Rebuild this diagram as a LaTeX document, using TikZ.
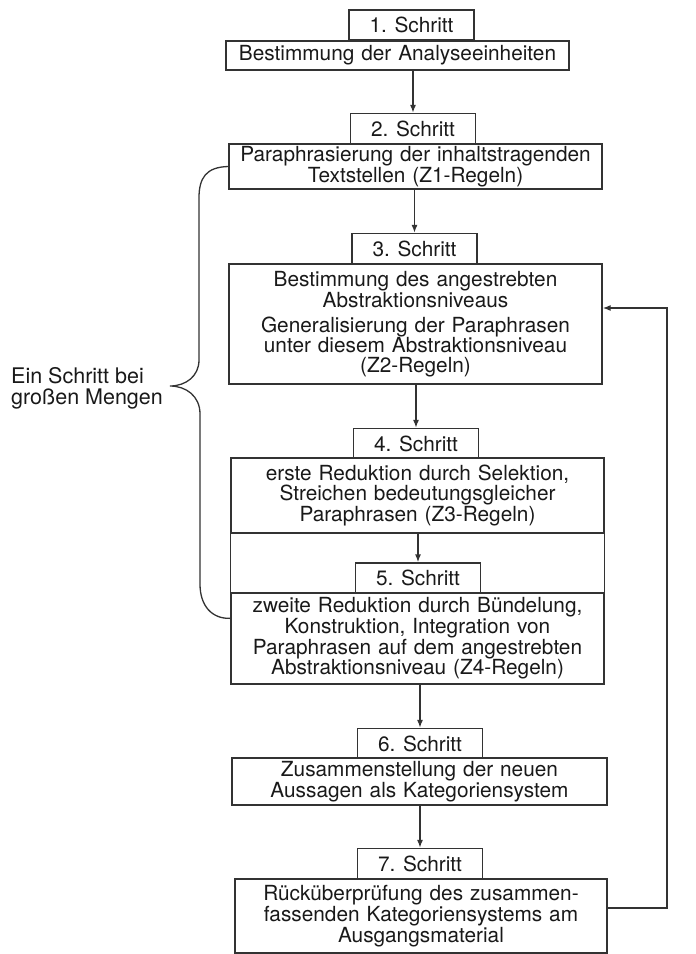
\documentclass[tikz,border=0pt]{standalone}
\usepackage{fontspec}
\setmainfont{TeX Gyre Heros}
\usetikzlibrary{arrows.meta}
\tikzset{
  linie/.style = {draw=black!80, line width=1.3pt},
  schritt/.style = {linie, text=black!90, minimum width=125pt, minimum height=30pt, inner sep=0pt, font=\fontsize{20.8}{19.5}\selectfont},
  kasten/.style = {linie, text=black!90, align=center, inner sep=0pt, font=\fontsize{20.8}{19.5}\selectfont},
  pfeil/.style = {linie, -{Latex[length=8pt,width=6pt]}},
}

\begin{document}
\begin{tikzpicture}[x=1pt, y=-1pt]
\useasboundingbox (0,0) rectangle (696,954);
% Schritte und Kaesten
\node [schritt] (s1) at (411.5,25) {1. Schritt};
\node [kasten, text width=343pt, minimum height=29pt] (b1) at (397.5,55.5) {Bestimmung der Analyseeinheiten};
\node [schritt] (s2) at (413,128.5) {2. Schritt};
\node [kasten, text width=373pt, minimum height=45pt] (b2) at (415.5,166.5) {Paraphrasierung der inhaltstragenden\\Textstellen (Z1-Regeln)};
\node [schritt] (s3) at (414.5,248.5) {3. Schritt};
\node [kasten, text width=373pt, minimum height=120pt] (b3) at (415.5,324) {Bestimmung des angestrebten\\Abstraktionsniveaus\\[5.5pt]Generalisierung der Paraphrasen\\unter diesem Abstraktionsniveau\\(Z2-Regeln)};
\node [schritt] (s4) at (416,443.5) {4. Schritt};
\node [kasten, text width=373pt, minimum height=75pt] (b4) at (417.5,495.5) {erste Reduktion durch Selektion,\\Streichen bedeutungsgleicher\\Paraphrasen (Z3-Regeln)};
\node [schritt] (s5) at (418,578) {5. Schritt};
\node [kasten, text width=373pt, minimum height=91pt] (b5) at (417.5,638.5) {zweite Reduktion durch Bündelung,\\Konstruktion, Integration von\\Paraphrasen auf dem angestrebten\\Abstraktionsniveau (Z4-Regeln)};
\node [schritt] (s6) at (420,743.5) {6. Schritt};
\node [kasten, text width=375pt, minimum height=47pt] (b6) at (419.5,781.5) {Zusammenstellung der neuen\\Aussagen als Kategoriensystem};
\node [schritt] (s7) at (420,863.5) {7. Schritt};
\node [kasten, text width=372pt, minimum height=74pt] (b7) at (421,916) {Rücküberprüfung des zusammen-\\fassenden Kategoriensystems am\\Ausgangsmaterial};

% Pfeile
\draw [pfeil] (b1.south -| s2.north) -- (s2.north);
\draw [pfeil] (b2.south -| s3.north) -- (s3.north);
\draw [pfeil] (b3.south -| s4.north) -- (s4.north);
\draw [pfeil] (b4.south -| s5.north) -- (s5.north);
\draw [pfeil] (b5.south -| s6.north) -- (s6.north);
\draw [pfeil] (b6.south -| s7.north) -- (s7.north);
\draw [linie] (b4.south west) -- (b5.north west);
\draw [linie] (b4.south east) -- (b5.north east);

% Rueckkopplung
\coordinate (rueck) at (667,600);
\draw [pfeil] ([yshift=8pt]b7.east) -| (rueck) |- ([yshift=16pt]b3.east);

% Klammer
\coordinate (spitze) at (170,386);
\draw [linie] (b2.west) .. controls (206,167) and (199,178) .. (199,198) -- (199,360)
  .. controls (199,376) and (186,386) .. (spitze)
  .. controls (186,386) and (200,396) .. (200,414) -- (200,584)
  .. controls (200,606) and (212,619) .. ([yshift=-26pt]b5.north west);
\node [anchor=west, align=left, inner sep=0pt, text=black!90, font=\fontsize{21.5}{21}\selectfont] (mengen) at (11,388) {Ein Schritt bei\\großen Mengen};
\end{tikzpicture}
\end{document}
